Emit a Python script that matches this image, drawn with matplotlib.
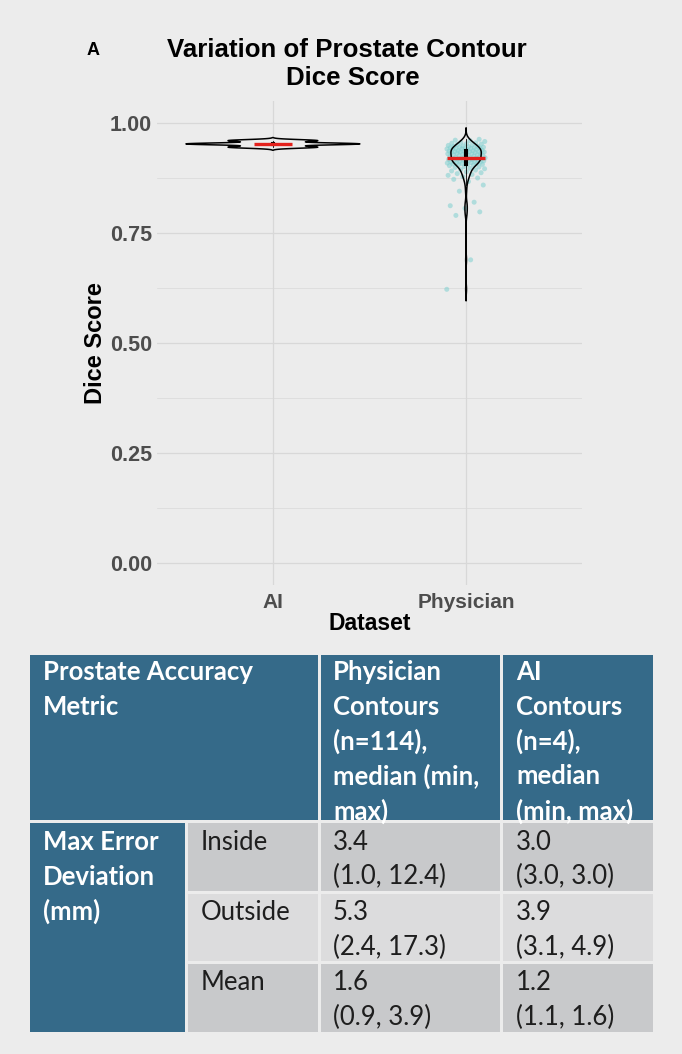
import numpy as np
import matplotlib.pyplot as plt
from matplotlib.patches import Rectangle

# ---- values ----
datasets = ["AI", "Physician"]
ai_dice = [0.945, 0.952, 0.953, 0.960]
physician_dice = [
    0.622, 0.689, 0.790, 0.798, 0.806, 0.812, 0.820, 0.845, 0.859, 0.867,
    0.872, 0.875, 0.878, 0.881, 0.883, 0.885, 0.887, 0.889, 0.891, 0.893,
    0.894, 0.896, 0.897, 0.899, 0.900, 0.901, 0.903, 0.904,
    0.905, 0.906, 0.906, 0.907, 0.908, 0.908, 0.909, 0.910, 0.910, 0.911,
    0.912, 0.912, 0.913, 0.913, 0.914, 0.915, 0.915, 0.916, 0.916, 0.917,
    0.917, 0.918, 0.918, 0.919, 0.919, 0.920, 0.920, 0.921,
    0.921, 0.922, 0.923, 0.924, 0.924, 0.925, 0.926, 0.926, 0.927, 0.928,
    0.928, 0.929, 0.930, 0.930, 0.931, 0.931, 0.932, 0.933, 0.933, 0.934,
    0.934, 0.935, 0.935, 0.935, 0.936, 0.936, 0.937, 0.937, 0.938, 0.939,
    0.940, 0.940, 0.941, 0.941, 0.942, 0.942, 0.943, 0.943, 0.944, 0.944,
    0.945, 0.945, 0.946, 0.947, 0.947, 0.948, 0.949, 0.950, 0.951, 0.952,
    0.953, 0.954, 0.955, 0.956, 0.958, 0.960, 0.961, 0.963,
]
y_ticks = [0.00, 0.25, 0.50, 0.75, 1.00]

# table contents
hdr_metric = ["Prostate Accuracy", "Metric"]
hdr_physician = ["Physician", "Contours", "(n=114),", "median (min,", "max)"]
hdr_ai = ["AI", "Contours", "(n=4),", "median", "(min, max)"]
group_label = ["Max Error", "Deviation", "(mm)"]
row_labels = ["Inside", "Outside", "Mean"]
phys_median = [3.4, 5.3, 1.6]
phys_min = [1.0, 2.4, 0.9]
phys_max = [12.4, 17.3, 3.9]
ai_median = [3.0, 3.9, 1.2]
ai_min = [3.0, 3.1, 1.1]
ai_max = [3.0, 4.9, 1.6]

BG = "#ececec"
HEAD = "#356a89"
GRID = "#d8d8d8"
TICK = "#4d4d4d"


def nrd0(x):
    x = np.asarray(x)
    q75, q25 = np.percentile(x, [75, 25])
    lo = min(x.std(ddof=1), (q75 - q25) / 1.34)
    return 0.9 * lo * len(x) ** -0.2


def kde(x, grid, bw):
    x = np.asarray(x)
    z = (grid[:, None] - x[None, :]) / bw
    return np.exp(-0.5 * z ** 2).sum(axis=1) / (len(x) * bw * np.sqrt(2 * np.pi))


fig = plt.figure(figsize=(6.82, 10.54), dpi=100, facecolor=BG)
plt.rcParams["font.family"] = ["Liberation Sans", "DejaVu Sans"]

ax = fig.add_axes([157 / 682, 1 - 585 / 1054, 425 / 682, 484 / 1054])
ax.set_facecolor(BG)

groups = [ai_dice, physician_dice]
positions = [1, 2]

# violins, ggplot-style "area" scaling, untrimmed tails (3 bandwidths)
grids, dens = [], []
for d in groups:
    bw = nrd0(d)
    g = np.linspace(min(d) - 3 * bw, max(d) + 3 * bw, 800)
    grids.append(g)
    dens.append(kde(d, g, bw))
scale = 0.45 / max(k.max() for k in dens)
for pos, g, k in zip(positions, grids, dens):
    ax.fill_betweenx(g, pos - k * scale, pos + k * scale, facecolor="none",
                     edgecolor="black", lw=1.1, zorder=3)

# jittered physician points
n = len(physician_dice)
jit = ((np.arange(n) * 0.618034) % 1 - 0.5) * 0.2
ax.scatter(2 + jit, physician_dice, s=13, color="#7fd0d0", alpha=0.55,
           edgecolors="none", zorder=2)

# narrow boxplots
ax.boxplot(groups, positions=positions, widths=0.012, showfliers=False,
           showcaps=False, patch_artist=True, manage_ticks=False,
           boxprops=dict(facecolor="black", edgecolor="black", lw=1.5),
           whiskerprops=dict(color="black", lw=0.6),
           medianprops=dict(color="black", lw=1), zorder=4)

# red median bars
for pos, d in zip(positions, groups):
    ax.hlines(np.median(d), pos - 0.1, pos + 0.1, color="#e3211c", lw=2.4,
              zorder=5)

ax.set_xlim(0.4, 2.6)
ax.set_ylim(-0.05, 1.05)
ax.set_xticks(positions)
ax.set_xticklabels(datasets)
ax.set_yticks(y_ticks)
ax.set_yticklabels([f"{v:.2f}" for v in y_ticks])
ax.set_yticks([0.125, 0.375, 0.625, 0.875], minor=True)
ax.grid(True, which="major", color=GRID, lw=0.9)
ax.grid(True, which="minor", axis="y", color=GRID, lw=0.5)
ax.set_axisbelow(True)
for s in ax.spines.values():
    s.set_visible(False)
ax.tick_params(which="both", length=0)
ax.tick_params(axis="y", pad=3.5, labelsize=15.5, labelcolor=TICK)
ax.tick_params(axis="x", pad=5.5, labelsize=15, labelcolor=TICK)
for lbl in ax.get_xticklabels() + ax.get_yticklabels():
    lbl.set_fontweight("bold")
ax.set_ylabel("Dice Score", fontsize=17, fontweight="bold", labelpad=2)
ax.set_xlabel("Dataset", fontsize=16.5, fontweight="bold", labelpad=0)

fig.text(347 / 682, 1 - 57 / 1054, "Variation of Prostate Contour",
         ha="center", va="baseline", fontsize=18.6, fontweight="bold")
fig.text(353 / 682, 1 - 85 / 1054, "Dice Score",
         ha="center", va="baseline", fontsize=18.6, fontweight="bold")
fig.text(87 / 682, 1 - 55 / 1054, "A", ha="left", va="baseline",
         fontsize=13, fontweight="bold")

# ---- table drawn in pixel coordinates ----
tab = fig.add_axes([0, 0, 1, 1])
tab.set_xlim(0, 682)
tab.set_ylim(1054, 0)
tab.axis("off")
tab.patch.set_visible(False)

TF = ["Lato", "DejaVu Sans"]
FS = 18.5
STEP = 34.8


def cell(x0, y0, x1, y1, color):
    tab.add_patch(Rectangle((x0, y0), x1 - x0, y1 - y0, facecolor=color,
                            edgecolor="none"))


def lines(x, y, texts, color, weight):
    for i, t in enumerate(texts):
        tab.text(x, y + i * STEP, t, ha="left", va="center", fontsize=FS,
                 color=color, fontweight=weight, family=TF)


cell(30, 655, 318, 820, HEAD)
cell(321, 655, 500, 820, HEAD)
cell(503, 655, 653, 820, HEAD)
lines(43, 672, hdr_metric, "white", "bold")
lines(333, 672, hdr_physician, "white", "bold")
lines(516, 672, hdr_ai, "white", "bold")

cell(30, 823, 185, 1032, HEAD)
lines(43, 842, group_label, "white", "bold")

row_top = [823, 894, 964]
row_bot = [891, 961, 1032]
row_col = ["#c8c9cb", "#dcdcdd", "#c8c9cb"]
for i, lab in enumerate(row_labels):
    y0, y1 = row_top[i], row_bot[i]
    cell(188, y0, 318, y1, row_col[i])
    cell(321, y0, 500, y1, row_col[i])
    cell(503, y0, 653, y1, row_col[i])
    lines(201, y0 + 19, [lab], "#1e1e1e", "normal")
    lines(333, y0 + 19, [f"{phys_median[i]:.1f}",
                         f"({phys_min[i]:.1f}, {phys_max[i]:.1f})"],
          "#1e1e1e", "normal")
    lines(516, y0 + 19, [f"{ai_median[i]:.1f}",
                         f"({ai_min[i]:.1f}, {ai_max[i]:.1f})"],
          "#1e1e1e", "normal")

fig.savefig("out.png", dpi=100, facecolor=BG)
